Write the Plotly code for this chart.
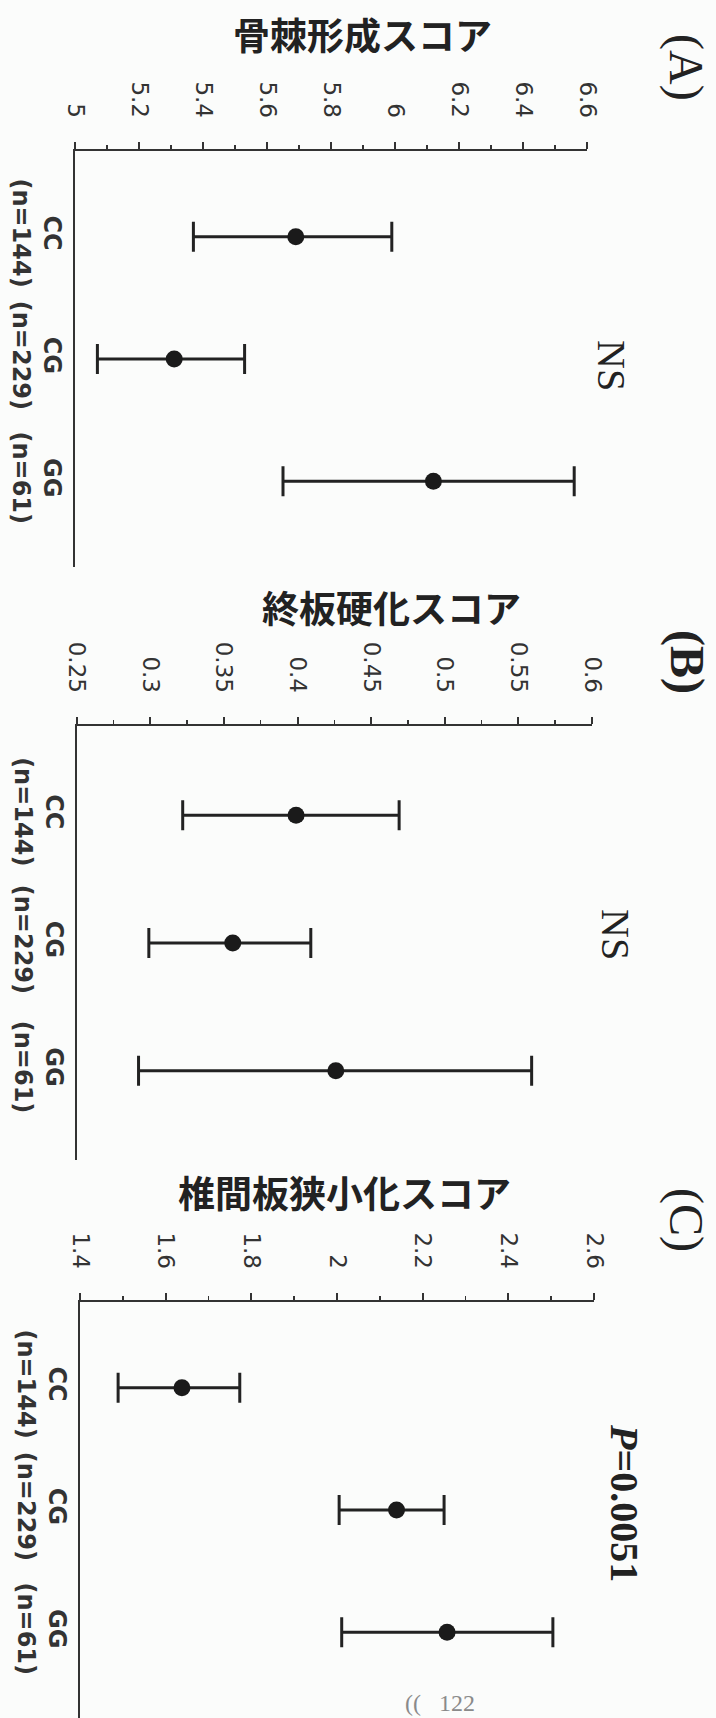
import plotly.graph_objects as go

W, H = 716, 1718

# ---------------- data ----------------
genotypes = ["CC", "CG", "GG"]
n_counts = ["(n=144)", "(n=229)", "(n=61)"]

titles = ["骨棘形成スコア", "終板硬化スコア", "椎間板狭小化スコア"]
panel_tags = ["(A)", "(B)", "(C)"]
stat_labels = ["NS", "NS", "<i>P</i>=0.0051"]

# panel A : osteophyte score
a_mean = [5.69, 5.31, 6.12]
a_low = [5.37, 5.07, 5.65]
a_high = [5.99, 5.53, 6.56]
a_ticks = [5.0, 5.2, 5.4, 5.6, 5.8, 6.0, 6.2, 6.4, 6.6]

# panel B : endplate sclerosis score
b_mean = [0.399, 0.356, 0.426]
b_low = [0.322, 0.299, 0.292]
b_high = [0.469, 0.409, 0.559]
b_ticks = [0.25, 0.3, 0.35, 0.4, 0.45, 0.5, 0.55, 0.6]

# panel C : disc space narrowing score
c_mean = [1.638, 2.139, 2.257]
c_low = [1.489, 2.005, 2.011]
c_high = [1.773, 2.250, 2.504]
c_ticks = [1.4, 1.6, 1.8, 2.0, 2.2, 2.4, 2.6]

# ---------------- layout geometry (pixels) ----------------
panels = [
    dict(mean=a_mean, low=a_low, high=a_high, ticks=a_ticks, minor=0.1,
         x0=75, x1=587, y0=151, y1=567,
         title_xy=(362, 34), tag_xy=(686, 67), stat_xy=(612, 365), tag_bold=False),
    dict(mean=b_mean, low=b_low, high=b_high, ticks=b_ticks, minor=0.025,
         x0=76.7, x1=592, y0=726, y1=1160,
         title_xy=(391, 607), tag_xy=(687, 662), stat_xy=(616, 934), tag_bold=True),
    dict(mean=c_mean, low=c_low, high=c_high, ticks=c_ticks, minor=0.1,
         x0=80, x1=594, y0=1302, y1=1718,
         title_xy=(344, 1192), tag_xy=(686, 1220), stat_xy=(625, 1503), tag_bold=False),
]

cat_text = [f"{g}<br>{n}" for g, n in zip(genotypes, n_counts)]

INK = "#222222"
AX = "#333333"

fig = go.Figure()
annotations = []
layout_axes = {}

for i, p in enumerate(panels):
    k = "" if i == 0 else str(i + 1)
    xa, ya = "x" + k, "y" + k
    plus = [h - m for h, m in zip(p["high"], p["mean"])]
    minus = [m - l for m, l in zip(p["mean"], p["low"])]
    fig.add_trace(go.Scatter(
        x=p["mean"], y=genotypes, mode="markers",
        marker=dict(size=17, color="#1a1a1a"),
        error_x=dict(type="data", symmetric=False, array=plus, arrayminus=minus,
                     thickness=3, width=15, color=INK),
        xaxis=xa, yaxis=ya, showlegend=False, cliponaxis=False,
        hoverinfo="skip",
    ))
    layout_axes["xaxis" + k] = dict(
        domain=[p["x0"] / W, p["x1"] / W],
        anchor=ya, side="top", automargin=False,
        range=[p["ticks"][0], p["ticks"][-1]],
        tickmode="array", tickvals=p["ticks"],
        ticktext=[f"{t:g}" for t in p["ticks"]],
        ticks="outside", ticklen=7, tickwidth=2, tickcolor=AX,
        minor=dict(ticks="outside", ticklen=4, tickwidth=1.5, tickcolor=AX,
                   dtick=p["minor"], tick0=p["ticks"][0]),
        showline=True, linewidth=2, linecolor=AX,
        showgrid=False, zeroline=False,
        tickangle=90, ticklabelstandoff=16,
        tickfont=dict(family="DejaVu Sans", size=23, color=AX),
    )
    layout_axes["yaxis" + k] = dict(
        domain=[1 - p["y1"] / H, 1 - p["y0"] / H],
        anchor=xa, type="category", automargin=False,
        range=[2.7, -0.7],
        tickmode="array", tickvals=genotypes, ticktext=cat_text,
        ticks="", showline=True, linewidth=2, linecolor=AX,
        showgrid=False, zeroline=False,
        tickangle=90,
        tickfont=dict(family="DejaVu Sans", size=24, color=AX, weight="bold"),
    )
    tx, ty = p["title_xy"]
    annotations.append(dict(
        x=tx / W, y=1 - ty / H, xref="paper", yref="paper",
        text=titles[i], showarrow=False, xanchor="center", yanchor="middle",
        font=dict(family="Noto Sans CJK JP", size=37, color=INK, weight="bold"),
    ))
    gx, gy = p["tag_xy"]
    annotations.append(dict(
        x=gx / W, y=1 - gy / H, xref="paper", yref="paper",
        text=panel_tags[i], showarrow=False, textangle=90,
        xanchor="center", yanchor="middle",
        font=dict(family="Liberation Serif", size=48, color=INK,
                  weight="bold" if p["tag_bold"] else "normal"),
    ))
    sx, sy = p["stat_xy"]
    annotations.append(dict(
        x=sx / W, y=1 - sy / H, xref="paper", yref="paper",
        text=stat_labels[i], showarrow=False, textangle=90,
        xanchor="center", yanchor="middle",
        font=dict(family="Liberation Serif", size=40, color=INK,
                  weight="bold" if i == 2 else "normal"),
    ))

annotations.append(dict(
    x=440 / W, y=1 - 1703 / H, xref="paper", yref="paper",
    text="((   122", showarrow=False, xanchor="center", yanchor="middle",
    font=dict(family="Liberation Serif", size=24, color="#8a8a8a"),
))

fig.update_layout(
    width=W, height=H,
    margin=dict(l=0, r=0, t=0, b=0, autoexpand=False),
    paper_bgcolor="#fbfcfb", plot_bgcolor="rgba(0,0,0,0)",
    annotations=annotations,
    hovermode=False,
    **layout_axes,
)

fig.write_html("out.html",
               config={"displayModeBar": False, "staticPlot": True},
               post_script="document.body.style.margin='0';document.body.style.overflow='hidden';")
